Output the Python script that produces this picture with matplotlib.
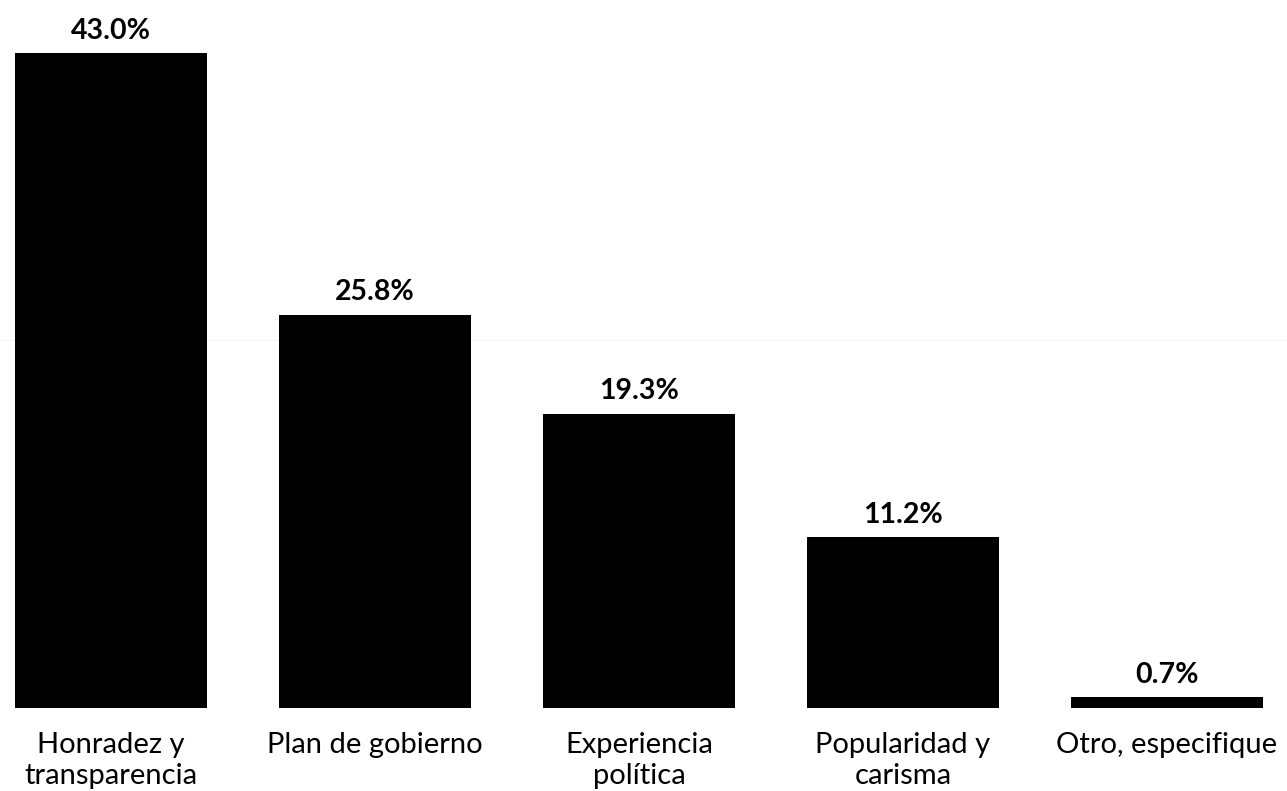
import matplotlib.pyplot as plt

categories = ["Honradez y\ntransparencia", "Plan de gobierno", "Experiencia\npolítica",
              "Popularidad y\ncarisma", "Otro, especifique"]
values = [43.0, 25.8, 19.3, 11.2, 0.7]
value_labels = ["43.0%", "25.8%", "19.3%", "11.2%", "0.7%"]

plt.rcParams['font.family'] = ['Lato', 'DejaVu Sans']

fig = plt.figure(figsize=(12.87, 7.91), dpi=100)
ax = fig.add_axes([0, 0.105, 1, 0.895])
x = range(len(categories))
bars = ax.bar(x, values, width=0.727, color="black", zorder=2)
ax.axhline(24.2, color="#f3f3f3", linewidth=1, zorder=1)

for b, lab in zip(bars, value_labels):
    ax.annotate(lab, (b.get_x() + b.get_width() / 2, b.get_height()),
                xytext=(0, 7), textcoords="offset points",
                ha="center", va="bottom", fontsize=20.5, fontweight="bold")

ax.set_xticks(list(x))
ax.set_xticklabels(categories, fontsize=21, linespacing=1.28)
ax.tick_params(axis="x", length=0, pad=17)
ax.set_yticks([])
ax.set_xlim(-0.42, 4.455)
ax.set_ylim(0, 46.5)
for s in ax.spines.values():
    s.set_visible(False)

fig.savefig("out.png")
